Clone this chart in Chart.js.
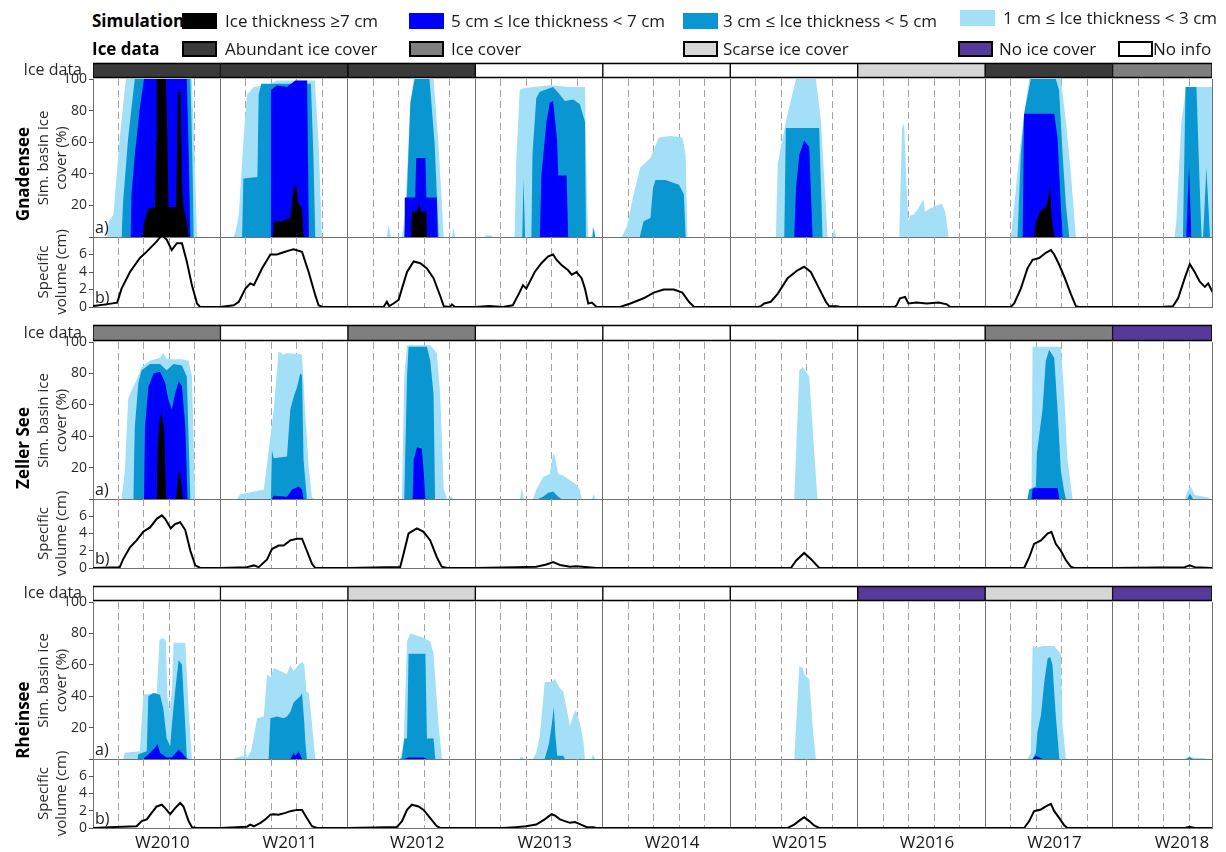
<!DOCTYPE html>
<html><head><meta charset="utf-8">
<script src="https://cdn.jsdelivr.net/npm/chart.js@4.4.1/dist/chart.umd.min.js"></script>
<style>
body{margin:0;background:#fff;width:1226px;height:852px;overflow:hidden;position:relative;font-family:"Open Sans",sans-serif;color:#1a1a1a}
canvas{position:absolute}
.lg{position:absolute;font-size:17px;line-height:20px;white-space:nowrap;color:#1a1a1a}
.lgb{position:absolute;font-size:17px;line-height:20px;white-space:nowrap;font-weight:bold;color:#000}
.sw{position:absolute;width:35px;height:16px;box-sizing:border-box}
.lake{position:absolute;font-weight:bold;font-size:17px;white-space:nowrap;transform:translate(-50%,-50%) rotate(-90deg);color:#000}
.tag{position:absolute;font-size:16px;line-height:18px;color:#1a1a1a}
</style></head><body>
<script>
// ---------------- data ----------------
const winters = ['W2010','W2011','W2012','W2013','W2014','W2015','W2016','W2017','W2018'];
const thickLabels = ['Ice thickness \u22657 cm','5 cm \u2264 Ice thickness < 7 cm','3 cm \u2264 Ice thickness < 5 cm','1 cm \u2264 Ice thickness < 3 cm'];
const thickColors = ['#000000','#0000ff','#0a96d0','#a3e0f7'];
const iceKeys = ['abundant','ice','scarse','none','noinfo'];
const iceLabels = ['Abundant ice cover','Ice cover','Scarse ice cover','No ice cover','No info'];
const iceColors = ['#3a3a3a','#7f7f7f','#d6d6d6','#553a9a','#ffffff'];
const coverTicks = [0,20,40,60,80,100];
const volumeTicks = [0,2,4,6,8];

const gnadIce  = ['abundant','abundant','abundant','noinfo','noinfo','noinfo','scarse','abundant','ice'];
const zellIce  = ['ice','noinfo','ice','noinfo','noinfo','noinfo','noinfo','ice','none'];
const rheinIce = ['noinfo','noinfo','scarse','noinfo','noinfo','noinfo','none','scarse','none'];

// each series: one list of [month-in-winter (0..5), value] per winter
const gnadC1 = [
 [[0.55,0],[0.62,10],[0.8,14],[1.05,63],[1.29,100],[3.88,100],[4.0,45],[4.08,0]],
 [[0.52,0],[0.6,4],[0.72,14],[0.91,63],[1.04,90],[1.31,95],[1.83,96],[2.22,99],[3.7,99],[3.85,60],[3.98,0]],
 [[1.53,0],[1.6,8],[1.69,0],[2.12,0],[2.25,16],[2.45,85],[2.58,100],[3.36,100],[3.55,60],[3.76,0],[4.08,0],[4.14,6],[4.2,0]],
 [[0.35,0],[0.4,1],[0.65,1],[0.7,0],[1.54,0],[1.6,46],[1.74,93],[1.87,94],[2.26,95],[2.92,96],[3.71,95],[4.3,95],[4.37,31],[4.43,0],[4.55,0],[4.62,7],[4.72,0]],
 [[0.75,0],[0.95,7],[1.21,27],[1.47,44],[1.87,50],[2.2,63],[2.66,64],[3.12,63],[3.25,52],[3.32,0]],
 [[1.79,0],[1.86,46],[2.18,73],[2.58,100],[3.36,100],[3.56,73],[3.75,20],[3.82,0],[4.0,0],[4.08,5],[4.15,0]],
 [[1.63,0],[1.74,69],[1.82,72],[1.92,31],[1.99,10],[2.08,14],[2.18,14],[2.38,18],[2.58,24],[2.64,16],[2.84,18],[3.1,20],[3.3,21],[3.43,16],[3.57,0]],
 [[1.01,0],[1.14,20],[1.34,52],[1.53,78],[1.73,100],[2.97,100],[3.17,73],[3.36,41],[3.56,0]],
 [[2.43,0],[2.5,10],[2.7,73],[2.89,95],[3.82,95],[3.92,95]]
];
const gnadC3 = [
 [[1.12,0],[1.18,22],[1.38,63],[1.54,86],[1.64,100],[3.82,100],[3.9,50],[3.95,0]],
 [[0.85,0],[0.9,37],[1.45,38],[1.5,90],[1.6,97],[3.55,97],[3.65,50],[3.72,0]],
 [[2.2,0],[2.3,20],[2.45,85],[2.62,100],[3.2,100],[3.4,60],[3.56,0]],
 [[1.84,0],[1.89,37],[1.95,0],[2.2,0],[2.24,52],[2.39,88],[2.53,92],[3.05,95],[3.32,90],[3.51,86],[3.84,87],[4.1,84],[4.3,73],[4.34,0],[4.6,0],[4.64,6],[4.7,0]],
 [[1.45,0],[1.6,10],[1.87,12],[1.97,31],[2.07,36],[2.46,36],[2.99,33],[3.18,27],[3.25,0]],
 [[2.12,0],[2.18,69],[3.49,69],[3.62,0]],
 [],
 [[1.27,0],[1.4,52],[1.53,78],[1.79,100],[2.77,100],[2.9,93],[3.04,52],[3.17,20],[3.3,0]],
 [[2.76,0],[2.86,95],[3.29,95],[3.42,31],[3.49,0],[3.55,0],[3.68,44],[3.82,0]]
];
const gnadC5 = [
 [[1.47,0],[1.51,27],[1.64,52],[1.84,82],[2.0,100],[3.68,100],[3.76,50],[3.82,0]],
 [[1.96,0],[1.98,93],[2.22,96],[2.61,95],[2.94,99],[3.4,99],[3.47,0]],
 [[2.21,0],[2.23,25],[2.64,25],[2.68,50],[3.04,50],[3.08,25],[3.49,25],[3.52,0]],
 [[2.53,0],[2.59,39],[2.79,73],[2.92,85],[3.05,86],[3.21,61],[3.25,39],[3.58,39],[3.64,0]],
 [],
 [[2.51,0],[2.58,31],[2.71,52],[2.9,61],[3.1,57],[3.23,0]],
 [],
 [[1.47,0],[1.53,78],[2.71,78],[2.84,63],[2.97,20],[3.04,0]],
 [[2.89,0],[3.0,45],[3.09,0]]
];
const gnadC7 = [
 [[1.95,0],[1.99,8],[2.17,18],[2.43,19],[2.48,60],[2.5,100],[2.86,100],[2.92,60],[2.96,19],[3.26,19],[3.33,92],[3.43,92],[3.5,30],[3.55,19],[3.68,10],[3.75,0]],
 [[2.06,0],[2.09,10],[2.4,10],[2.74,12],[2.87,31],[2.98,33],[3.04,22],[3.2,18],[3.26,0]],
 [[2.47,0],[2.51,16],[2.71,16],[2.77,22],[2.87,16],[3.08,16],[3.1,0]],
 [],[],[],[],
 [[1.92,0],[1.99,10],[2.19,17],[2.38,19],[2.47,24],[2.55,33],[2.6,14],[2.71,0]],
 []
];
const gnadVol = [
 [[0,0.1],[0.5,0.3],[0.95,0.5],[1.12,2.1],[1.45,4],[1.84,5.6],[2.1,6.3],[2.5,7.5],[2.7,8.2],[2.89,7.7],[3.09,6.5],[3.29,7.3],[3.49,7.3],[3.68,5.2],[3.88,2.5],[4.08,0.4],[4.2,0],[5,0]],
 [[0,0],[0.52,0.2],[0.72,0.6],[0.98,2.1],[1.17,2.7],[1.31,2.5],[1.63,4.4],[1.96,6],[2.22,6],[2.42,6.2],[2.74,6.5],[2.87,6.6],[3.2,6.3],[3.46,4],[3.72,1.35],[3.85,0.2],[4,0],[5,0]],
 [[0,0],[1.4,0],[1.53,0.6],[1.62,0.1],[1.79,0.4],[1.99,0.8],[2.12,2.1],[2.32,4],[2.58,5.2],[2.84,5],[3.1,4.4],[3.36,3.3],[3.63,1.2],[3.76,0.1],[4.0,0],[4.08,0.3],[4.2,0],[5,0]],
 [[0,0],[0.55,0.1],[1.08,0],[1.47,0.2],[1.74,1.7],[1.87,2.5],[2,2.1],[2.33,4],[2.59,5],[2.86,5.8],[3.05,6],[3.18,5.4],[3.38,4.8],[3.64,4.2],[3.78,3.7],[3.97,4],[4.17,3.3],[4.3,2.1],[4.43,0.4],[4.57,0.5],[4.76,0],[5,0]],
 [[0,0],[0.68,0],[1.08,0.4],[1.6,1],[2,1.65],[2.39,2],[2.79,2],[3.12,1.65],[3.38,0.6],[3.58,0],[5,0]],
 [[0,0],[1.1,0],[1.2,0.1],[1.33,0.4],[1.59,0.6],[1.86,1.5],[2.25,3.3],[2.64,4.2],[2.9,4.6],[3.16,4],[3.49,2.1],[3.75,0.6],[3.88,0.1],[4.2,0.1],[4.3,0],[5,0]],
 [[0,0],[1.45,0],[1.53,0.2],[1.66,1],[1.86,1.15],[1.99,0.4],[2.3,0.5],[2.71,0.4],[3.17,0.5],[3.5,0.3],[3.63,0],[5,0]],
 [[0,0],[1,0],[1.14,0.4],[1.4,2.1],[1.66,4.4],[1.86,5.4],[2.12,5.6],[2.38,6.2],[2.58,6.5],[2.71,6],[2.91,4.8],[3.1,3.5],[3.36,1.5],[3.56,0.1],[3.7,0],[5,0]],
 [[0,0],[1.9,0],[2.37,0.1],[2.57,1],[2.83,3.3],[3.03,4.9],[3.22,4],[3.42,2.9],[3.62,2.3],[3.75,2.7],[3.92,1.7]]
];

const zellC1 = [
 [[1.12,0],[1.25,18],[1.38,64],[1.51,69],[1.71,76],[1.91,84],[2.24,88],[2.63,90],[2.76,93],[2.89,89],[3.49,89],[3.75,88],[3.88,78],[4.01,0]],
 [[0.65,0],[0.78,3],[1.7,6],[1.83,23],[2.09,57],[2.28,94],[2.48,92],[2.61,93],[3.2,92],[3.33,54],[3.46,21],[3.59,1],[3.72,0]],
 [[2.12,0],[2.21,78],[2.32,98],[3.23,98],[3.49,93],[3.62,67],[3.76,6],[3.89,0],[4.0,0],[4.06,2],[4.12,0]],
 [[1.75,0],[1.82,7],[1.9,0],[2.26,0],[2.39,6],[2.66,14],[2.92,16],[3.05,29],[3.12,27],[3.25,16],[3.45,15],[3.71,12],[3.97,9],[4.1,6],[4.17,0],[4.58,0],[4.64,3],[4.72,0]],
 [],
 [[2.51,0],[2.71,82],[2.84,84],[3.1,78],[3.23,46],[3.42,0]],
 [],
 [[1.66,0],[1.82,5],[1.86,97],[2.97,97],[3.1,67],[3.23,25],[3.43,0]],
 [[2.83,0],[2.96,6],[3.07,8],[3.22,2.5],[3.75,1],[3.82,0]]
];
const zellC3 = [
 [[1.58,0],[1.64,46],[1.78,74],[1.91,82],[2.24,86],[2.63,86],[2.89,82],[3.16,86],[3.49,85],[3.68,78],[3.82,0]],
 [[1.98,0],[2.02,31],[2.09,26],[2.61,27],[2.74,57],[2.87,65],[3,71],[3.13,80],[3.2,79],[3.26,25],[3.39,0]],
 [[2.21,0],[2.32,78],[2.38,97],[3.1,97],[3.23,88],[3.36,67],[3.42,0]],
 [[2.46,0],[2.66,1.5],[2.86,4],[3.05,4.7],[3.25,1.5],[3.38,0]],
 [],[],[],
 [[1.66,0],[1.73,6],[1.99,8],[2.03,29],[2.25,57],[2.38,88],[2.51,95],[2.71,90],[2.84,57],[2.97,18],[3.1,5],[3.17,0]],
 [[2.93,0],[3.03,3.5],[3.16,0]]
];
const zellC5 = [
 [[2.0,0],[2.04,46],[2.17,71],[2.37,80],[2.63,81],[2.83,74],[2.96,63],[3.09,57],[3.22,67],[3.36,75],[3.49,72],[3.62,46],[3.71,0]],
 [[2.02,0],[2.09,2],[2.61,1.5],[2.81,6],[3.07,8],[3.2,6],[3.26,0]],
 [[2.54,0],[2.58,25],[2.71,33],[2.9,32],[2.97,18],[3.04,0]],
 [],[],[],[],
 [[1.82,0],[1.86,6],[1.92,7],[2.84,7],[2.91,0]],
 []
];
const zellC7 = [
 [[2.5,0],[2.54,35],[2.61,50],[2.7,55],[2.79,44],[2.87,0],[3.26,0],[3.36,18],[3.42,16],[3.53,0]],
 [],[],[],[],[],[],[],[]
];
const zellVol = [
 [[0,0],[1.05,0.1],[1.18,1],[1.45,2.4],[1.71,3.2],[1.97,4.2],[2.24,4.7],[2.5,5.7],[2.7,6.1],[2.83,5.7],[3.05,4.6],[3.22,5.1],[3.42,5.3],[3.62,4.4],[3.82,2],[4.01,0.3],[4.21,0],[5,0]],
 [[0,0],[1.04,0.1],[1.31,0.3],[1.5,0.1],[1.83,1],[2.02,2.2],[2.28,2.6],[2.48,2.6],[2.74,3.2],[3,3.4],[3.2,3.4],[3.39,2],[3.59,0.5],[3.72,0],[5,0]],
 [[0,0],[1.53,0.1],[2.05,0.1],[2.18,1.6],[2.38,4],[2.71,4.6],[2.97,4.2],[3.23,3.2],[3.49,1.25],[3.68,0.15],[3.89,0],[5,0]],
 [[0,0],[1.6,0.1],[2.39,0.15],[2.79,0.4],[3.05,0.7],[3.32,0.35],[3.71,0.15],[3.97,0.2],[4.76,0],[5,0]],
 [[0,0],[5,0]],
 [[0,0],[2.38,0],[2.58,0.85],[2.9,1.75],[3.16,1.05],[3.49,0],[5,0]],
 [[0,0],[5,0]],
 [[0,0],[1.53,0],[1.73,1.25],[1.92,2.8],[2.19,3.2],[2.45,4],[2.6,4.2],[2.77,2.8],[2.97,2],[3.17,0.9],[3.36,0.15],[3.5,0],[5,0]],
 [[0,0],[2.83,0.1],[3.03,0.3],[3.22,0.1],[3.92,0]]
];

const rheinC1 = [
 [[1.18,0],[1.25,4],[1.84,5],[1.97,41],[2.5,42],[2.61,76],[2.76,77],[2.86,75],[2.92,40],[3.0,30],[3.1,45],[3.16,74],[3.62,74],[3.75,32],[3.88,0]],
 [[0.52,0],[0.65,1],[0.91,2],[0.95,8],[0.98,8],[1.04,1],[1.2,5],[1.44,26],[1.7,27],[1.83,54],[1.96,52],[2.1,58],[2.35,56],[2.61,54],[2.74,60],[2.87,56],[3.07,60],[3.2,62],[3.29,60],[3.37,43],[3.46,42],[3.59,23],[3.72,0]],
 [[2.05,0],[2.19,11],[2.32,75],[2.45,80],[2.84,78],[3.23,75],[3.36,67],[3.56,21],[3.69,0]],
 [[1.74,0],[1.8,2],[1.9,0],[2.26,0],[2.39,4],[2.53,15],[2.72,49],[2.99,49],[3.12,51],[3.32,45],[3.45,43],[3.58,32],[3.71,21],[3.84,28],[3.95,31],[4.1,23],[4.24,11],[4.3,0],[4.55,0],[4.62,3],[4.7,0]],
 [],
 [[2.51,0],[2.71,59],[2.84,58],[2.9,54],[3.1,51],[3.23,21],[3.36,0]],
 [],
 [[1.66,0],[1.79,4],[1.86,72],[2.05,71],[2.25,72],[2.71,72],[2.97,67],[3.04,21],[3.17,0]],
 [[2.83,0],[3.0,2],[3.09,1],[3.62,0.5],[3.75,0]]
];
const rheinC3 = [
 [[1.74,0],[1.78,3],[2.11,5],[2.17,40],[2.37,42],[2.63,41],[2.76,32],[2.89,13],[3.03,8],[3.09,21],[3.22,43],[3.36,63],[3.49,60],[3.62,21],[3.68,1],[3.75,0]],
 [[1.89,0],[1.96,26],[2.22,27],[2.48,26],[2.61,27],[2.74,30],[2.87,36],[3.13,40],[3.2,42],[3.29,23],[3.33,11],[3.39,0]],
 [[2.05,0],[2.12,1],[2.21,13],[2.32,13],[2.38,67],[3.04,67],[3.1,13],[3.36,13],[3.43,0]],
 [[2.72,0],[2.79,4],[2.89,10],[2.99,21],[3.08,33],[3.14,15],[3.21,2],[3.45,2],[3.51,0]],
 [],[],[],
 [[1.86,0],[1.99,4],[2.05,17],[2.19,28],[2.32,49],[2.45,64],[2.55,65],[2.64,60],[2.77,28],[2.91,0]],
 [[2.89,0],[3.03,1.3],[3.16,0]]
];
const rheinC5 = [
 [[1.97,0],[2.24,4],[2.43,7],[2.53,9.5],[2.63,4],[2.89,1],[3.09,1],[3.36,6],[3.49,4],[3.68,0]],
 [[2.74,0],[2.87,4],[2.94,2],[3.07,5],[3.2,0]],
 [[2.21,0],[2.38,1],[2.97,1],[3.1,0]],
 [],[],[],[],
 [[1.86,0],[1.99,2],[2.12,1],[2.25,0]],
 []
];
const rheinC7 = [[],[],[],[],[],[],[],[],[]];
const rheinVol = [
 [[0,0],[0.66,0.1],[1.71,0.2],[1.91,0.8],[2.11,1],[2.3,1.75],[2.5,2.5],[2.7,2.7],[2.83,2.3],[3.03,1.6],[3.22,2.3],[3.42,2.9],[3.55,2.5],[3.75,0.8],[3.88,0.1],[4.08,0],[5,0]],
 [[0,0],[1.04,0.15],[1.17,0.4],[1.31,0.2],[1.57,0.6],[1.76,1],[1.96,1.55],[2.09,1.6],[2.28,1.55],[2.55,1.75],[2.74,1.95],[3,2.1],[3.2,2.1],[3.39,1.15],[3.59,0.2],[3.79,0],[5,0]],
 [[0,0],[1.53,0.1],[1.92,0.1],[2.12,0.8],[2.32,2.1],[2.51,2.7],[2.77,2.5],[2.97,2.1],[3.23,1.15],[3.49,0.2],[3.63,0],[5,0]],
 [[0,0],[1.08,0],[1.6,0.1],[1.99,0.2],[2.39,0.4],[2.72,1],[2.99,1.6],[3.12,1.45],[3.32,1],[3.51,0.8],[3.71,0.6],[3.91,0.7],[4.1,0.45],[4.37,0.1],[4.63,0.1],[4.76,0],[5,0]],
 [[0,0],[5,0]],
 [[0,0],[2.25,0],[2.51,0.4],[2.71,0.85],[2.9,1.25],[3.1,0.8],[3.29,0.3],[3.49,0],[5,0]],
 [[0,0],[5,0]],
 [[0,0],[1.53,0],[1.73,0.8],[1.92,1.95],[2.19,2.15],[2.38,2.5],[2.58,2.8],[2.71,1.95],[2.91,1.15],[3.1,0.3],[3.23,0],[5,0]],
 [[0,0],[2.83,0],[3.03,0.15],[3.22,0],[3.92,0]]
];

// ---------------- layout ----------------
const XMAX = 43.9, WIN = 5, LABEL_POS = 2.72;
const L = 93, R = 1212, PAD = 12, CW = 1226, TITLE_X = 30;
const lakes = [
 {name:'Gnadensee', ice:gnadIce, cls:[gnadC7,gnadC5,gnadC3,gnadC1], vol:gnadVol, top:62, areaTop:79, volTop:237, volBot:307, nameY:174},
 {name:'Zeller See', ice:zellIce, cls:[zellC7,zellC5,zellC3,zellC1], vol:zellVol, top:324, areaTop:342, volTop:499, volBot:568, nameY:448},
 {name:'Rheinsee', ice:rheinIce, cls:[rheinC7,rheinC5,rheinC3,rheinC1], vol:rheinVol, top:585, areaTop:602, volTop:759, volBot:828, nameY:720}
];
const dashTicks = []; for (let v = 1; v < XMAX; v++) if (v % WIN) dashTicks.push(v);
const winTicks = []; for (let v = WIN; v < XMAX; v += WIN) winTicks.push(v);

Chart.defaults.font.family = '"Open Sans", sans-serif';
Chart.defaults.color = '#2a2a2a';

function pts(series){ const out=[]; series.forEach((win,w)=>win.forEach(([m,v])=>out.push({x:w*WIN+m,y:v}))); return out; }
function makeCanvas(top, height){
  const c=document.createElement('canvas'); c.width=CW; c.height=height;
  c.style.left='0px'; c.style.top=top+'px'; c.style.width=CW+'px'; c.style.height=height+'px';
  document.body.appendChild(c); return c.getContext('2d');
}
function addDiv(txt, cls, x, y){ const d=document.createElement('div'); d.className=cls; if(txt!==null) d.textContent=txt; d.style.left=x+'px'; d.style.top=y+'px'; document.body.appendChild(d); return d; }
const baseOpts = { animation:false, responsive:false, events:[], plugins:{legend:{display:false}, tooltip:{enabled:false}} };
const FRAME = '#707070';

function xScales(withLabels){
  const s = {
    x:{type:'linear',min:0,max:XMAX,position:'bottom',z:1,
       afterBuildTicks:a=>{a.ticks=dashTicks.map(v=>({value:v}));},
       ticks:{display:false}, grid:{color:'#a3a3a3',lineWidth:1,drawTicks:false}, border:{display:false,dash:[7,4]}},
    xs:{type:'linear',axis:'x',min:0,max:XMAX,position:'bottom',z:1,
       afterBuildTicks:a=>{a.ticks=winTicks.map(v=>({value:v}));},
       ticks:{display:false}, grid:{color:FRAME,lineWidth:1,drawTicks:false}, border:{display:true,color:FRAME,width:1}},
    yr:{type:'linear',axis:'y',position:'right',min:0,max:1,ticks:{display:false},grid:{drawOnChartArea:false,drawTicks:false},border:{display:true,color:FRAME,width:1}}
  };
  if (withLabels) {
    s.xl = {type:'linear',axis:'x',min:0,max:XMAX,position:'bottom',
      afterBuildTicks:a=>{a.ticks=winters.map((_,i)=>({value:i*WIN+LABEL_POS}));},
      ticks:{display:true,autoSkip:false,maxRotation:0,minRotation:0,padding:5,font:{size:17},color:'#1a1a1a',callback:(v,i)=>winters[i]},
      grid:{display:false,drawTicks:false}, border:{display:false},
      afterFit:a=>{a.height=24;}};
  }
  return s;
}
function yScale(tickVals, hideVal, title){
  const max = tickVals[tickVals.length-1];
  return {type:'linear',position:'left',min:0,max:max,
    afterBuildTicks:a=>{a.ticks=tickVals.map(v=>({value:v}));},
    ticks:{autoSkip:false,font:{size:14},color:'#2a2a2a',padding:2,callback:v=>v===hideVal?'':String(v)},
    grid:{drawOnChartArea:false,drawTicks:true,tickLength:4,color:'#555'},
    border:{display:true,color:FRAME,width:1},
    title:{display:true,text:title,font:{size:15},color:'#2a2a2a',padding:{top:5,bottom:0}},
    afterFit:a=>{a.width=L-TITLE_X;}};
}

lakes.forEach((lk, li) => {
  // ice observation strip
  new Chart(makeCanvas(lk.top-PAD, lk.areaTop-lk.top+2*PAD), {
    type:'bar',
    data:{labels:['Ice data'], datasets: lk.ice.map((k,w)=>({
      data:[[w*WIN, Math.min(w*WIN+WIN, XMAX)]],
      backgroundColor: iceColors[iceKeys.indexOf(k)], borderColor:'#000',
      borderWidth:{top:2,bottom:2,left:1,right:1}, borderSkipped:false,
      barPercentage:1, categoryPercentage:1, grouped:false}))},
    options:Object.assign({}, baseOpts, {indexAxis:'y',
      layout:{padding:{left:0,right:CW-R,top:PAD,bottom:PAD}},
      scales:{x:{type:'linear',min:0,max:XMAX,display:false},
              y:{type:'category',grid:{display:false},border:{display:false},ticks:{font:{size:16},color:'#2a2a2a',padding:3},afterFit:a=>{a.width=L;}}}})
  });
  // simulated ice cover
  const aS = xScales(false); aS.y = yScale(coverTicks, 0, ['Sim. basin ice','cover (%)']);
  new Chart(makeCanvas(lk.areaTop-PAD, lk.volTop-lk.areaTop+2*PAD), {
    type:'line',
    data:{datasets: lk.cls.map((s,i)=>({data:pts(s), backgroundColor:thickColors[i], borderColor:'transparent', borderWidth:0, pointRadius:0, fill:'origin', tension:0, xAxisID:'x', yAxisID:'y'}))},
    options:Object.assign({}, baseOpts, {layout:{padding:{left:TITLE_X,right:CW-R,top:PAD,bottom:PAD}}, scales:aS})
  });
  // specific volume
  const last = li === lakes.length-1;
  const vS = xScales(last); vS.y = yScale(volumeTicks, 8, ['Specific','volume (cm)']);
  const vTop = lk.volTop-PAD;
  const vH = last ? (852 - vTop) : (lk.volBot-lk.volTop+2*PAD);
  new Chart(makeCanvas(vTop, vH), {
    type:'line',
    data:{datasets:[{data:pts(lk.vol), borderColor:'#000', borderWidth:2, pointRadius:0, fill:false, tension:0, xAxisID:'x', yAxisID:'y'}]},
    options:Object.assign({}, baseOpts, {layout:{padding:{left:TITLE_X,right:CW-R,top:PAD,bottom:last?0:PAD}}, scales:vS})
  });
  addDiv(lk.name, 'lake', 22, lk.nameY);
  addDiv('a)', 'tag', 95, lk.volTop-19);
  addDiv('b)', 'tag', 95, lk.volBot-19);
});

// ---------------- legend ----------------
addDiv('Simulation', 'lgb', 92, 11);
addDiv('Ice data', 'lgb', 92, 39);
const row1 = [[182,225,0],[409,451,0],[683,723,0],[960,1003,-3]];
thickLabels.forEach((t,i)=>{
  const [sx,tx,dy] = row1[i];
  const s = addDiv(null,'sw',sx,13+dy); s.style.background = thickColors[i];
  addDiv(t,'lg',tx,11+dy);
});
const row2 = [[182,225],[409,451],[683,723],[958,999],[1118,1153]];
iceLabels.forEach((t,i)=>{
  const [sx,tx] = row2[i];
  const s = addDiv(null,'sw',sx,41); s.style.background = iceColors[i]; s.style.border = '2px solid #000';
  addDiv(t,'lg',tx,39);
});
</script>
</body></html>
